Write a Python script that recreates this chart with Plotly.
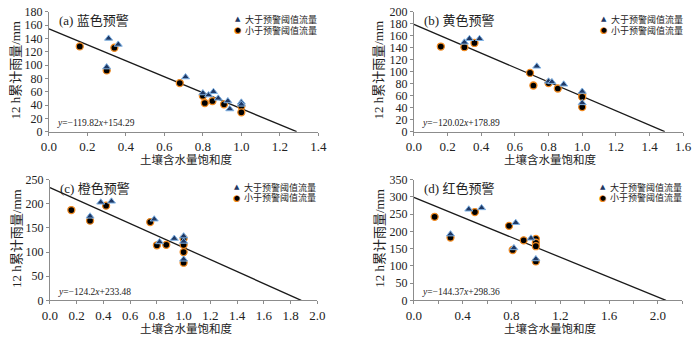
import plotly.graph_objects as go

# ---------------- data ----------------
panel_titles = ["(a) 蓝色预警", "(b) 黄色预警", "(c) 橙色预警", "(d) 红色预警"]
series_names = ["大于预警阈值流量", "小于预警阈值流量"]
x_title = "土壤含水量饱和度"
y_title = "12 h累计雨量/mm"

# (a) blue warning
a_hi_x = [0.31, 0.36, 0.30, 0.71, 0.80, 0.83, 0.855, 0.88, 0.93, 0.94, 1.00, 1.00]
a_hi_y = [140, 131, 97, 82, 58, 55, 60, 50, 46, 34, 44, 41]
a_lo_x = [0.16, 0.30, 0.34, 0.68, 0.80, 0.81, 0.85, 0.91, 1.00, 1.00]
a_lo_y = [128, 92, 126, 73, 54, 43, 46, 41, 38, 29]
# (b) yellow warning
b_hi_x = [0.30, 0.33, 0.39, 0.73, 0.80, 0.82, 0.89, 1.00, 1.00]
b_hi_y = [149, 155, 155, 109, 84, 83, 79, 67, 48]
b_lo_x = [0.16, 0.30, 0.36, 0.69, 0.71, 0.80, 0.855, 1.00, 1.00, 1.00]
b_lo_y = [142, 141, 148, 98, 77, 81, 72, 62, 58, 41]
# (c) orange warning
c_hi_x = [0.30, 0.38, 0.46, 0.78, 0.82, 0.93, 1.00, 1.00, 1.00]
c_hi_y = [174, 203, 205, 168, 121, 128, 133, 122, 85]
c_lo_x = [0.16, 0.30, 0.42, 0.75, 0.80, 0.87, 1.00, 1.00, 1.00, 1.00]
c_lo_y = [187, 165, 196, 162, 114, 115, 128, 115, 100, 78]
# (d) red warning
d_hi_x = [0.30, 0.45, 0.555, 0.835, 0.82, 0.96, 1.00]
d_hi_y = [192, 264, 268, 225, 152, 180, 120]
d_lo_x = [0.17, 0.30, 0.50, 0.78, 0.81, 0.90, 1.00, 1.00, 1.00, 1.00]
d_lo_y = [242, 182, 256, 216, 146, 174, 178, 167, 157, 113]

# regression lines y = k*x + b
slopes = [-119.82, -120.02, -124.2, -144.37]
intercepts = [154.29, 178.89, 233.48, 298.36]
eq_texts = ["<i>y</i>=−119.82<i>x</i>+154.29", "<i>y</i>=−120.02<i>x</i>+178.89",
            "<i>y</i>=−124.2<i>x</i>+233.48", "<i>y</i>=−144.37<i>x</i>+298.36"]

# axis settings
x_ranges = [[0, 1.4], [0, 1.6], [0, 2.0], [0, 2.2]]
x_dticks = [0.2, 0.2, 0.2, 0.4]
y_ranges = [[0, 180], [0, 200], [0, 250], [0, 350]]
y_dticks = [20, 20, 50, 50]

W, H = 700, 340
def px(x):
    return x / W
def py(y):
    return 1 - y / H

# plot-area boxes in pixels (left, right, top, bottom)
boxes = [(42, 318, 5, 130), (416, 692, 5, 130), (43, 317, 180, 306), (416, 691, 180, 306)]
ytitle_off = [34, 36, 35, 36]

SERIF = "'Liberation Serif', 'Noto Sans CJK SC', serif"

fig = go.Figure()
his = [(a_hi_x, a_hi_y), (b_hi_x, b_hi_y), (c_hi_x, c_hi_y), (d_hi_x, d_hi_y)]
los = [(a_lo_x, a_lo_y), (b_lo_x, b_lo_y), (c_lo_x, c_lo_y), (d_lo_x, d_lo_y)]

for i in range(4):
    ax = "" if i == 0 else str(i + 1)
    k, b = slopes[i], intercepts[i]
    x0, x1 = 0.0, -b / k
    fig.add_trace(go.Scatter(x=[x0, x1], y=[k * x0 + b, k * x1 + b], mode="lines",
                             line=dict(color="#1a1a1a", width=1.3), showlegend=False,
                             xaxis="x" + ax, yaxis="y" + ax, hoverinfo="skip"))
    fig.add_trace(go.Scatter(x=los[i][0], y=los[i][1], mode="markers", name=series_names[1],
                             marker=dict(symbol="circle", size=7, color="#000000",
                                         line=dict(color="#f0891f", width=1.3)),
                             showlegend=False, xaxis="x" + ax, yaxis="y" + ax))
    fig.add_trace(go.Scatter(x=his[i][0], y=his[i][1], mode="markers", name=series_names[0],
                             marker=dict(symbol="triangle-up", size=7, color="#1f3864",
                                         line=dict(color="#7fb2e5", width=1)),
                             showlegend=False, xaxis="x" + ax, yaxis="y" + ax))

layout = dict(width=W, height=H, margin=dict(l=0, r=0, t=0, b=0),
              paper_bgcolor="white", plot_bgcolor="white", showlegend=False)
annotations = []
for i in range(4):
    l, r, t, bt = boxes[i]
    sfx = "" if i == 0 else str(i + 1)
    xa = dict(domain=[px(l), px(r)], range=x_ranges[i], dtick=x_dticks[i], tick0=0,
              tickformat=".1f", showgrid=False, zeroline=False, showline=True,
              linecolor="#8c8c8c", linewidth=1, ticks="outside", ticklen=3,
              tickcolor="#8c8c8c", tickfont=dict(family=SERIF, size=13, color="#222"),
              anchor="y" + sfx)
    if i == 3:
        xa["minor"] = dict(dtick=0.2, tick0=0, ticks="outside", ticklen=3, tickcolor="#8c8c8c")
    ya = dict(domain=[py(bt), py(t)], range=y_ranges[i], dtick=y_dticks[i], tick0=0,
              showgrid=False, zeroline=False, showline=True, linecolor="#8c8c8c",
              linewidth=1, ticks="outside", ticklen=3, tickcolor="#8c8c8c",
              tickfont=dict(family=SERIF, size=12, color="#222"), anchor="x" + sfx)
    layout["xaxis" + sfx] = xa
    layout["yaxis" + sfx] = ya

    # panel title
    annotations.append(dict(x=px(l + 8), y=py(t + 9), xref="paper", yref="paper",
                            text=panel_titles[i], showarrow=False, xanchor="left",
                            yanchor="middle", font=dict(family=SERIF, size=13, color="#222")))
    # equation
    annotations.append(dict(x=px(l + 6), y=py(bt - 8.5), xref="paper", yref="paper",
                            text=eq_texts[i], showarrow=False, xanchor="left",
                            yanchor="middle", font=dict(family=SERIF, size=9.5, color="#222")))
    # y title
    annotations.append(dict(x=px(l - ytitle_off[i]), y=py((t + bt) / 2 - 2), xref="paper",
                            yref="paper", text=y_title, showarrow=False, textangle=-90,
                            xanchor="center", yanchor="middle", borderpad=0,
                            font=dict(family=SERIF, size=13, color="#222")))
    # x title
    annotations.append(dict(x=px((l + r) / 2 + 2), y=py(bt + 29), xref="paper", yref="paper",
                            text=x_title, showarrow=False, xanchor="center", yanchor="middle",
                            borderpad=0, font=dict(family=SERIF, size=11.5, color="#222")))
    # legend (drawn as text glyphs)
    lx = r - 82 if i % 2 == 0 else r - 81
    ly1 = t + 8
    ly2 = t + 19
    annotations.append(dict(x=px(lx), y=py(ly1), xref="paper", yref="paper", text="▲",
                            showarrow=False, xanchor="center", yanchor="middle",
                            font=dict(family="DejaVu Sans", size=7, color="#1f3864")))
    annotations.append(dict(x=px(lx), y=py(ly2), xref="paper", yref="paper", text="●",
                            showarrow=False, xanchor="center", yanchor="middle",
                            font=dict(family="DejaVu Sans", size=9, color="#f0891f")))
    annotations.append(dict(x=px(lx), y=py(ly2), xref="paper", yref="paper", text="●",
                            showarrow=False, xanchor="center", yanchor="middle",
                            font=dict(family="DejaVu Sans", size=6.5, color="#000")))
    for j, yy in enumerate([ly1, ly2]):
        annotations.append(dict(x=px(lx + 5), y=py(yy), xref="paper", yref="paper",
                                text=series_names[j], showarrow=False, xanchor="left",
                                yanchor="middle",
                                font=dict(family=SERIF, size=9, color="#222")))

layout["annotations"] = annotations
fig.update_layout(**layout)
fig.write_html("out.html")
